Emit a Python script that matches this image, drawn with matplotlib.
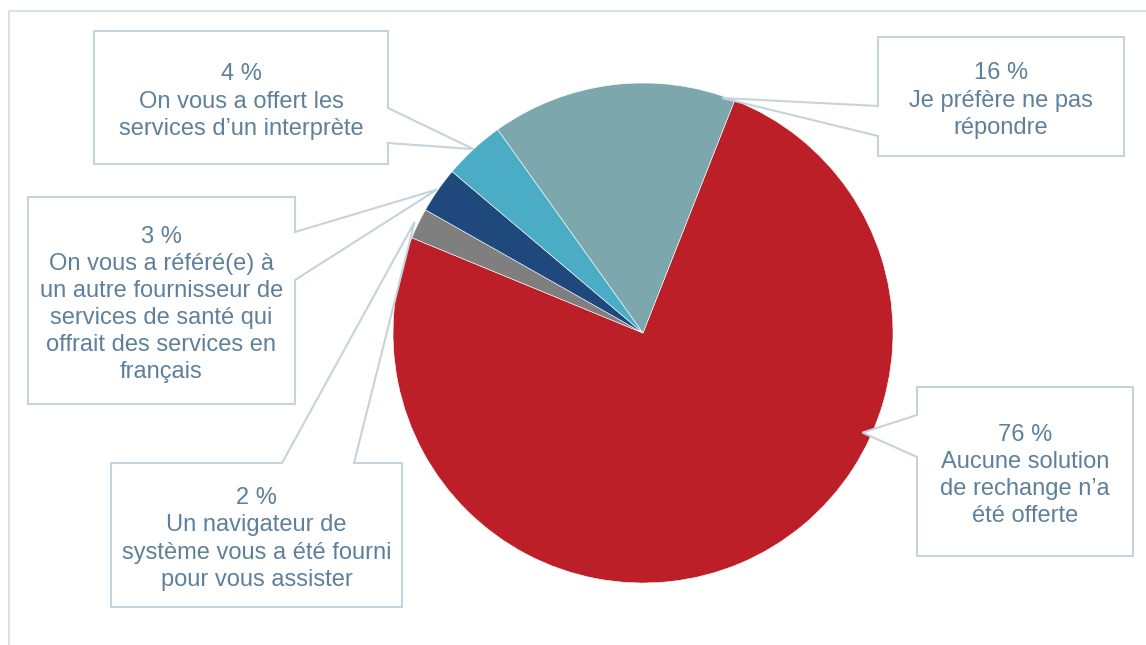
import numpy as np
import matplotlib.pyplot as plt
from matplotlib.patches import Polygon, Rectangle

plt.rcParams['font.family'] = ['Liberation Sans', 'DejaVu Sans']

# data
labels = [
    "Aucune solution\nde rechange n\u2019a\nété offerte",
    "Un navigateur de\nsystème vous a été fourni\npour vous assister",
    "On vous a référé(e) à\nun autre fournisseur de\nservices de santé qui\noffrait des services en\nfrançais",
    "On vous a offert les\nservices d\u2019un interprète",
    "Je préfère ne pas\nrépondre",
]
values = [76, 2, 3, 4, 16]
colors = ['#BD1F29', '#7F7F7F', '#1F497C', '#4BACC6', '#7CA8AD']

# layout (pixel coords, y downward)
cx, cy, R = 643, 333, 250
boxes = [
    (917, 387, 1133, 556),
    (111, 463, 402, 607),
    (28, 197, 295, 404),
    (94, 31, 388, 164),
    (878, 37, 1124, 156),
]
# where along each wedge the pointer tip sits, and at what radius
tip_frac = [0.343, 0.5, 0.5, 0.5, 0.95]
tip_r = [241, 254, 251, 250, 248]
# pointer base: side of box, and two positions along that side
bases = [
    ('left', 415, 457),
    ('top', 282, 354),
    ('right', 232, 280),
    ('right', 108, 143),
    ('left', 106, 136),
]

fig = plt.figure(figsize=(11.46, 6.45), dpi=100)
ax = fig.add_axes([0, 0, 1, 1])

ax.add_patch(Rectangle((9, 11), 1300, 800, fill=False, edgecolor='#D6DDE4', lw=1.3))

# y axis is flipped, so draw counterclock in data to get clockwise on screen
wedges, _ = ax.pie(values, colors=colors, startangle=-68.5, counterclock=True,
                   center=(cx, cy), radius=R, frame=True,
                   wedgeprops=dict(edgecolor='white', linewidth=0.4))
ax.set_xlim(0, 1146)
ax.set_ylim(645, 0)
ax.set_aspect('equal')
ax.axis('off')

box_edge = '#C5D3DE'
txt_color = '#5D809C'

for i, w in enumerate(wedges):
    t1, t2 = w.theta1, w.theta2
    ang = np.deg2rad(t1 + tip_frac[i] * (t2 - t1))
    tx = cx + tip_r[i] * np.cos(ang)
    ty = cy + tip_r[i] * np.sin(ang)
    x0, y0, x1, y1 = boxes[i]
    side, a, b = bases[i]
    if side == 'left':
        verts = [(x0, y0), (x1, y0), (x1, y1), (x0, y1), (x0, b), (tx, ty), (x0, a)]
    elif side == 'right':
        verts = [(x0, y0), (x1, y0), (x1, a), (tx, ty), (x1, b), (x1, y1), (x0, y1)]
    else:
        verts = [(x0, y0), (a, y0), (tx, ty), (b, y0), (x1, y0), (x1, y1), (x0, y1)]
    ax.add_patch(Polygon(verts, closed=True, facecolor='white', edgecolor=box_edge,
                         lw=1.5, zorder=5))
    ax.text((x0 + x1) / 2, (y0 + y1) / 2 + 4, f"{values[i]} %\n{labels[i]}",
            ha='center', va='center', fontsize=17, color=txt_color,
            linespacing=1.3, zorder=6)

fig.savefig('out.png', dpi=100)
